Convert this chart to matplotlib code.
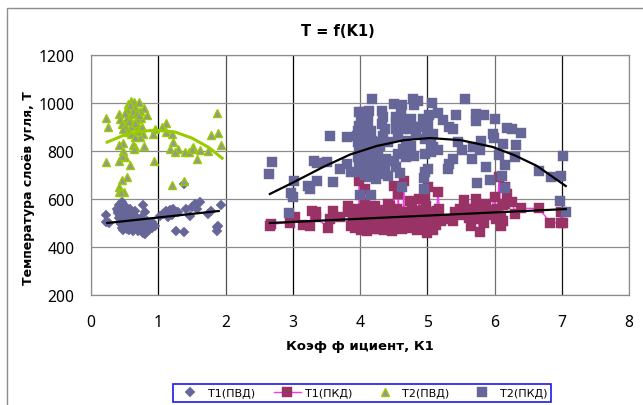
import numpy as np
import matplotlib
matplotlib.use('Agg')
import matplotlib.pyplot as plt
from matplotlib.patches import Rectangle

# T1(PVD) points
t1_pvd_x = [0.22, 0.23, 0.27, 1.27, 1.38, 1.87, 1.89, 1.87, 1.94, 1.62, 1.55, 1.5, 1.57, 1.42, 1.47, 1.74, 1.79,
            1.22, 1.12, 1.07, 1.15, 1.27, 0.78, 0.8, 0.95, 0.8, 0.46, 0.51, 0.38, 0.4, 0.42, 0.44, 0.46, 0.48,
            0.4, 0.43, 0.46, 0.5, 0.53, 0.56, 0.6, 0.63, 0.66, 0.7, 0.74, 0.78, 0.82, 0.86, 0.9, 0.5, 0.54,
            0.58, 0.62, 0.66, 0.7, 0.74, 0.84, 0.88, 0.55, 0.6, 0.65, 0.42, 0.47, 0.52, 0.72, 1.38, 1.1, 1.18,
            0.45, 0.5, 0.55, 0.6, 0.65, 0.7, 0.75, 0.8, 0.85, 0.9, 0.48, 0.58, 0.68, 0.78, 0.88, 1.03, 1.2, 1.3]
t1_pvd_y = [535, 503, 499, 468, 461, 482, 489, 468, 575, 589, 579, 566, 559, 559, 531, 538, 552,
            559, 552, 538, 524, 545, 577, 545, 489, 454, 586, 572, 560, 540, 520, 500, 480, 470,
            550, 530, 510, 490, 475, 470, 485, 468, 478, 465, 480, 460, 478, 470, 505, 555, 540,
            560, 520, 550, 505, 520, 510, 490, 510, 495, 530, 575, 565, 525, 490, 663, 540, 555,
            495, 480, 500, 515, 490, 485, 470, 495, 490, 480, 525, 540, 520, 510, 495, 530, 535, 545]

# T1(PKD) points
t1_pkd_x = [2.66, 2.68, 2.96, 3.03, 3.15, 3.25, 3.28, 3.35, 3.35, 3.52, 3.55, 3.6, 3.7, 3.82, 3.82, 3.87,
            3.9, 3.92, 3.95, 3.99, 4.0, 4.02, 4.04, 4.06, 4.08, 4.1, 4.12, 4.14, 4.17, 4.2, 4.22, 4.25,
            4.28, 4.3, 4.33, 4.35, 4.38, 4.4, 4.43, 4.45, 4.48, 4.5, 4.52, 4.55, 4.57, 4.6, 4.62, 4.65,
            4.68, 4.7, 4.72, 4.75, 4.78, 4.8, 4.82, 4.85, 4.88, 4.9, 4.92, 4.96, 4.98, 5.0, 5.01, 5.03,
            5.05, 5.08, 5.1, 5.13, 5.16, 5.18, 5.2, 5.31, 5.38, 5.48, 5.55, 5.65, 5.73, 5.73, 5.78, 5.85,
            5.88, 6.0, 6.02, 6.07, 6.1, 6.12, 6.15, 6.15, 6.18, 6.26, 6.31, 6.4, 6.66, 6.83, 6.99, 6.99, 7.02,
            3.94, 4.02, 4.07, 4.16, 4.24, 4.31, 4.41, 4.47, 4.58, 4.66, 4.74, 4.86, 4.94, 5.06, 5.12,
            3.91, 3.98, 4.05, 4.11, 4.18, 4.26, 4.34, 4.42, 4.49, 4.56, 4.63, 4.71, 4.79, 4.87, 4.95, 5.02, 5.09,
            3.96, 4.03, 4.13, 4.21, 4.29, 4.37, 4.46, 4.54, 4.64, 4.73, 4.83, 4.91, 4.99, 5.07, 5.14,
            5.42, 5.5, 5.58, 5.62, 5.7, 5.76, 5.83, 5.9, 5.95, 6.04, 6.09, 6.13]
t1_pkd_y = [486, 495, 502, 523, 493, 488, 551, 547, 523, 481, 516, 551, 523, 572, 544, 488,
            510, 480, 535, 676, 490, 470, 560, 515, 641, 465, 545, 500, 520, 480, 570, 530,
            475, 555, 505, 470, 545, 515, 490, 570, 530, 655, 480, 560, 620, 510, 475, 676,
            545, 500, 480, 530, 560, 490, 510, 470, 600, 540, 505, 613, 570, 460, 652, 500,
            545, 470, 520, 490, 630, 560, 510, 516, 509, 558, 597, 488, 600, 565, 463, 502,
            579, 607, 516, 690, 488, 509, 652, 579, 620, 588, 537, 561, 561, 502, 500, 544, 502,
            495, 530, 585, 500, 475, 535, 580, 465, 545, 500, 590, 475, 555, 520, 545,
            540, 515, 490, 530, 500, 550, 525, 515, 500, 530, 510, 525, 535, 520, 500, 530, 505,
            560, 545, 515, 535, 520, 500, 510, 535, 520, 545, 505, 550, 485, 525, 550,
            545, 535, 560, 520, 545, 515, 550, 535, 555, 560, 530, 575]

# T2(PVD) points
t2_pvd_x = [0.22, 0.26, 0.22, 1.87, 1.79, 1.89, 1.94, 1.58, 0.94, 0.58, 0.41, 0.51, 1.21, 1.38, 0.53, 0.46,
            0.42, 0.41, 0.49, 0.45, 1.12, 1.05, 0.95, 0.92, 0.77, 0.73, 1.12, 1.2, 1.22, 1.17, 1.3, 1.25,
            1.4, 1.45, 1.52, 1.62, 1.74, 1.5, 0.79, 0.65, 0.62, 0.64, 0.48, 0.41, 0.48, 0.46,
            0.6, 0.64, 0.72, 0.55, 0.65, 0.79, 0.73, 0.53, 0.6, 0.42, 0.84, 0.75, 0.68, 0.54, 0.43, 0.46,
            0.6, 0.7, 0.6, 0.51, 0.55, 0.6, 0.58, 0.62, 0.68, 0.66, 0.57, 0.7, 0.5, 0.48, 0.76, 0.66, 0.72]
t2_pvd_y = [936, 899, 753, 959, 868, 874, 827, 767, 760, 743, 760, 774, 659, 677, 691, 681,
            649, 631, 628, 628, 917, 899, 892, 871, 871, 857, 878, 871, 836, 809, 809, 795,
            795, 795, 816, 806, 798, 809, 822, 816, 825, 809, 834, 825, 802, 781,
            1010, 1003, 1003, 996, 982, 979, 968, 975, 954, 954, 948, 936, 934, 936, 934, 913,
            927, 903, 903, 903, 878, 871, 990, 965, 960, 915, 925, 885, 960, 890, 900, 860, 950]

# T2(PKD) points
t2_pkd_x = [2.69, 2.65, 3.02, 2.98, 3.01, 2.94, 3.23, 3.25, 3.36, 3.32, 3.36, 3.51, 3.6, 3.55, 3.81, 3.7,
            3.81, 3.87, 4.0, 4.16, 3.99, 4.18, 4.04, 4.14, 4.33, 4.5, 4.62, 4.79, 4.86, 4.8, 5.07, 5.56,
            5.72, 5.84, 5.73, 6.0, 5.43, 5.16, 5.03, 5.23, 5.32, 5.38, 6.18, 6.26, 6.4, 5.98, 5.99, 5.8,
            6.12, 6.32, 5.45, 5.52, 5.68, 5.78, 6.06, 6.3, 5.66, 5.38, 5.32, 5.31, 5.87, 6.15, 6.66, 6.84,
            6.99, 7.02, 6.11, 5.94, 5.74, 6.16, 6.97, 7.06, 4.63, 4.95, 4.6, 5.01, 4.97, 4.95,
            4.02, 4.12, 3.99, 4.09, 3.97, 4.07, 4.17, 3.95, 4.04, 4.14, 3.97, 4.09, 4.22, 3.99, 4.12, 4.24,
            3.97, 4.07, 4.22, 3.99, 4.14, 4.24, 4.19, 4.32, 4.24, 4.42, 4.34, 4.32, 4.37, 4.34, 4.42, 4.54,
            4.61, 4.54, 4.64, 4.76, 4.54, 4.64, 4.74, 4.84, 4.56, 4.69, 4.84, 4.94, 5.01, 4.91, 4.99, 5.08,
            4.96, 5.06, 4.76, 4.64, 4.56, 4.51, 4.69, 4.81, 4.96, 5.06, 5.16, 4.39, 4.37, 4.54, 5.08, 3.99,
            4.02, 4.1, 4.28, 4.3, 4.05, 4.1, 4.2, 4.14, 4.0, 4.06, 4.15, 4.18, 4.12, 4.27, 4.3, 4.03, 4.08]
t2_pkd_y = [753, 703, 673, 623, 607, 540, 655, 641, 673, 757, 750, 753, 669, 861, 857, 725,
            746, 711, 616, 618, 711, 1017, 961, 965, 965, 994, 992, 1017, 1010, 992, 999, 1017,
            954, 950, 926, 933, 950, 957, 950, 929, 898, 892, 894, 892, 875, 871, 853, 843,
            828, 825, 836, 804, 815, 804, 783, 773, 766, 766, 746, 725, 733, 741, 715, 690,
            694, 779, 694, 679, 666, 645, 590, 547, 650, 641, 708, 727, 711, 686,
            933, 926, 905, 905, 885, 878, 885, 864, 857, 857, 836, 829, 836, 808, 801, 808,
            773, 766, 766, 746, 739, 746, 718, 704, 683, 697, 940, 912, 892, 864, 836, 940,
            954, 919, 926, 933, 892, 892, 892, 898, 864, 843, 871, 933, 912, 898, 878, 871,
            850, 836, 822, 808, 787, 759, 773, 780, 787, 794, 805, 766, 732, 732, 815, 961,
            810, 780, 725, 760, 890, 850, 700, 690, 870, 830, 790, 840, 750, 800, 820, 720, 700]

# trend lines
trend_t1_pvd_x = [0.24, 1.9]
trend_t1_pvd_y = [500, 550]
trend_t1_pkd_x = [2.66, 7.06]
trend_t1_pkd_y = [500, 558]
trend_t2_pvd_x = [0.24, 0.5, 0.75, 0.98, 1.25, 1.5, 1.75, 1.95]
trend_t2_pvd_y = [837, 867, 882, 887, 879, 854, 815, 770]
trend_t2_pkd_x = [2.66, 3.0, 3.45, 3.85, 4.25, 4.65, 5.04, 5.5, 5.97, 6.3, 6.63, 7.06]
trend_t2_pkd_y = [621, 668, 733, 785, 821, 845, 854, 845, 817, 782, 738, 654]

xticks = [0, 1, 2, 3, 4, 5, 6, 7, 8]
yticks = [200, 400, 600, 800, 1000, 1200]
vgrid_colors = ['#808080', '#000000', '#505050', '#000000', '#707070', '#202020', '#707070', '#101010', '#909090']

plt.rcParams['font.family'] = ['Noto Sans', 'DejaVu Sans']

fig = plt.figure(figsize=(6.43, 4.06), dpi=100)
# chart frame, only its left and top edges are inside the picture
fig.add_artist(Rectangle((6.5 / 643, -0.1), 1.2, 1.1 - 8.5 / 406, transform=fig.transFigure, fill=False,
                         edgecolor='#8c8c8c', lw=1))
ax = fig.add_axes([91 / 643, 1 - 296 / 406, 538 / 643, 240 / 406])

for x, c in zip(xticks, vgrid_colors):
    ax.axvline(x, color=c, lw=0.9, zorder=1)
for y in yticks:
    ax.axhline(y, color='#8c8c8c', lw=0.9, zorder=1)

ax.plot(t1_pvd_x, t1_pvd_y, ls='none', marker='D', ms=5.2, color='#666699', mew=0.3, label='Т1(ПВД)', zorder=2)
order = np.argsort(t1_pkd_x)
ax.plot(np.array(t1_pkd_x)[order], np.array(t1_pkd_y)[order], ls='-', lw=1, color='#ff33ee', marker='s', ms=7,
        mfc='#993366', mec='#993366', mew=0.3, label='Т1(ПКД)', zorder=3)
ax.plot(t2_pvd_x, t2_pvd_y, ls='none', marker='^', ms=6.4, mfc='#969696', mec='#99cc00', mew=1,
        label='Т2(ПВД)', zorder=4)
ax.plot(t2_pkd_x, t2_pkd_y, ls='none', marker='s', ms=7, color='#666699', mew=0.3, label='Т2(ПКД)', zorder=5)

ax.plot(trend_t1_pvd_x, trend_t1_pvd_y, color='black', lw=1.6, zorder=6)
ax.plot(trend_t1_pkd_x, trend_t1_pkd_y, color='black', lw=1.6, zorder=6)
ax.plot(trend_t2_pvd_x, trend_t2_pvd_y, color='#99cc00', lw=2.2, zorder=6)
ax.plot(trend_t2_pkd_x, trend_t2_pkd_y, color='black', lw=1.6, zorder=6)

ax.set_xlim(0, 8)
ax.set_ylim(200, 1200)
ax.set_xticks(xticks)
ax.set_yticks(yticks)
ax.tick_params(axis='x', length=0, labelsize=11.3, pad=14)
ax.tick_params(axis='y', length=0, labelsize=11.3, pad=12)
for s in ax.spines.values():
    s.set_color('#8c8c8c')
    s.set_linewidth(0.9)

fig.text(338 / 643, 1 - 31 / 406, 'T = f(K1)', ha='center', va='center', fontsize=10.5, fontweight='bold',
         family='DejaVu Sans')
fig.text(360 / 643, 1 - 347 / 406, 'Коэф ф ициент, К1', ha='center', va='center', fontsize=9.5, fontweight='bold',
         family='DejaVu Sans')
fig.text(29 / 643, 1 - 188 / 406, 'Температура слоёв угля, Т', ha='center', va='center', rotation=90, fontsize=9,
         fontweight='bold', family='DejaVu Sans')

leg = fig.legend(loc='center', bbox_to_anchor=(362 / 643, 1 - 394 / 406), ncol=4, frameon=True,
                 prop={'family': 'DejaVu Sans', 'size': 8}, fancybox=False, edgecolor='#1a1aee', framealpha=1,
                 borderpad=0.35, columnspacing=1.7, handlelength=2.4, handletextpad=0.4, borderaxespad=0)
leg.get_frame().set_linewidth(1.2)

fig.savefig('out.png', dpi=100)
